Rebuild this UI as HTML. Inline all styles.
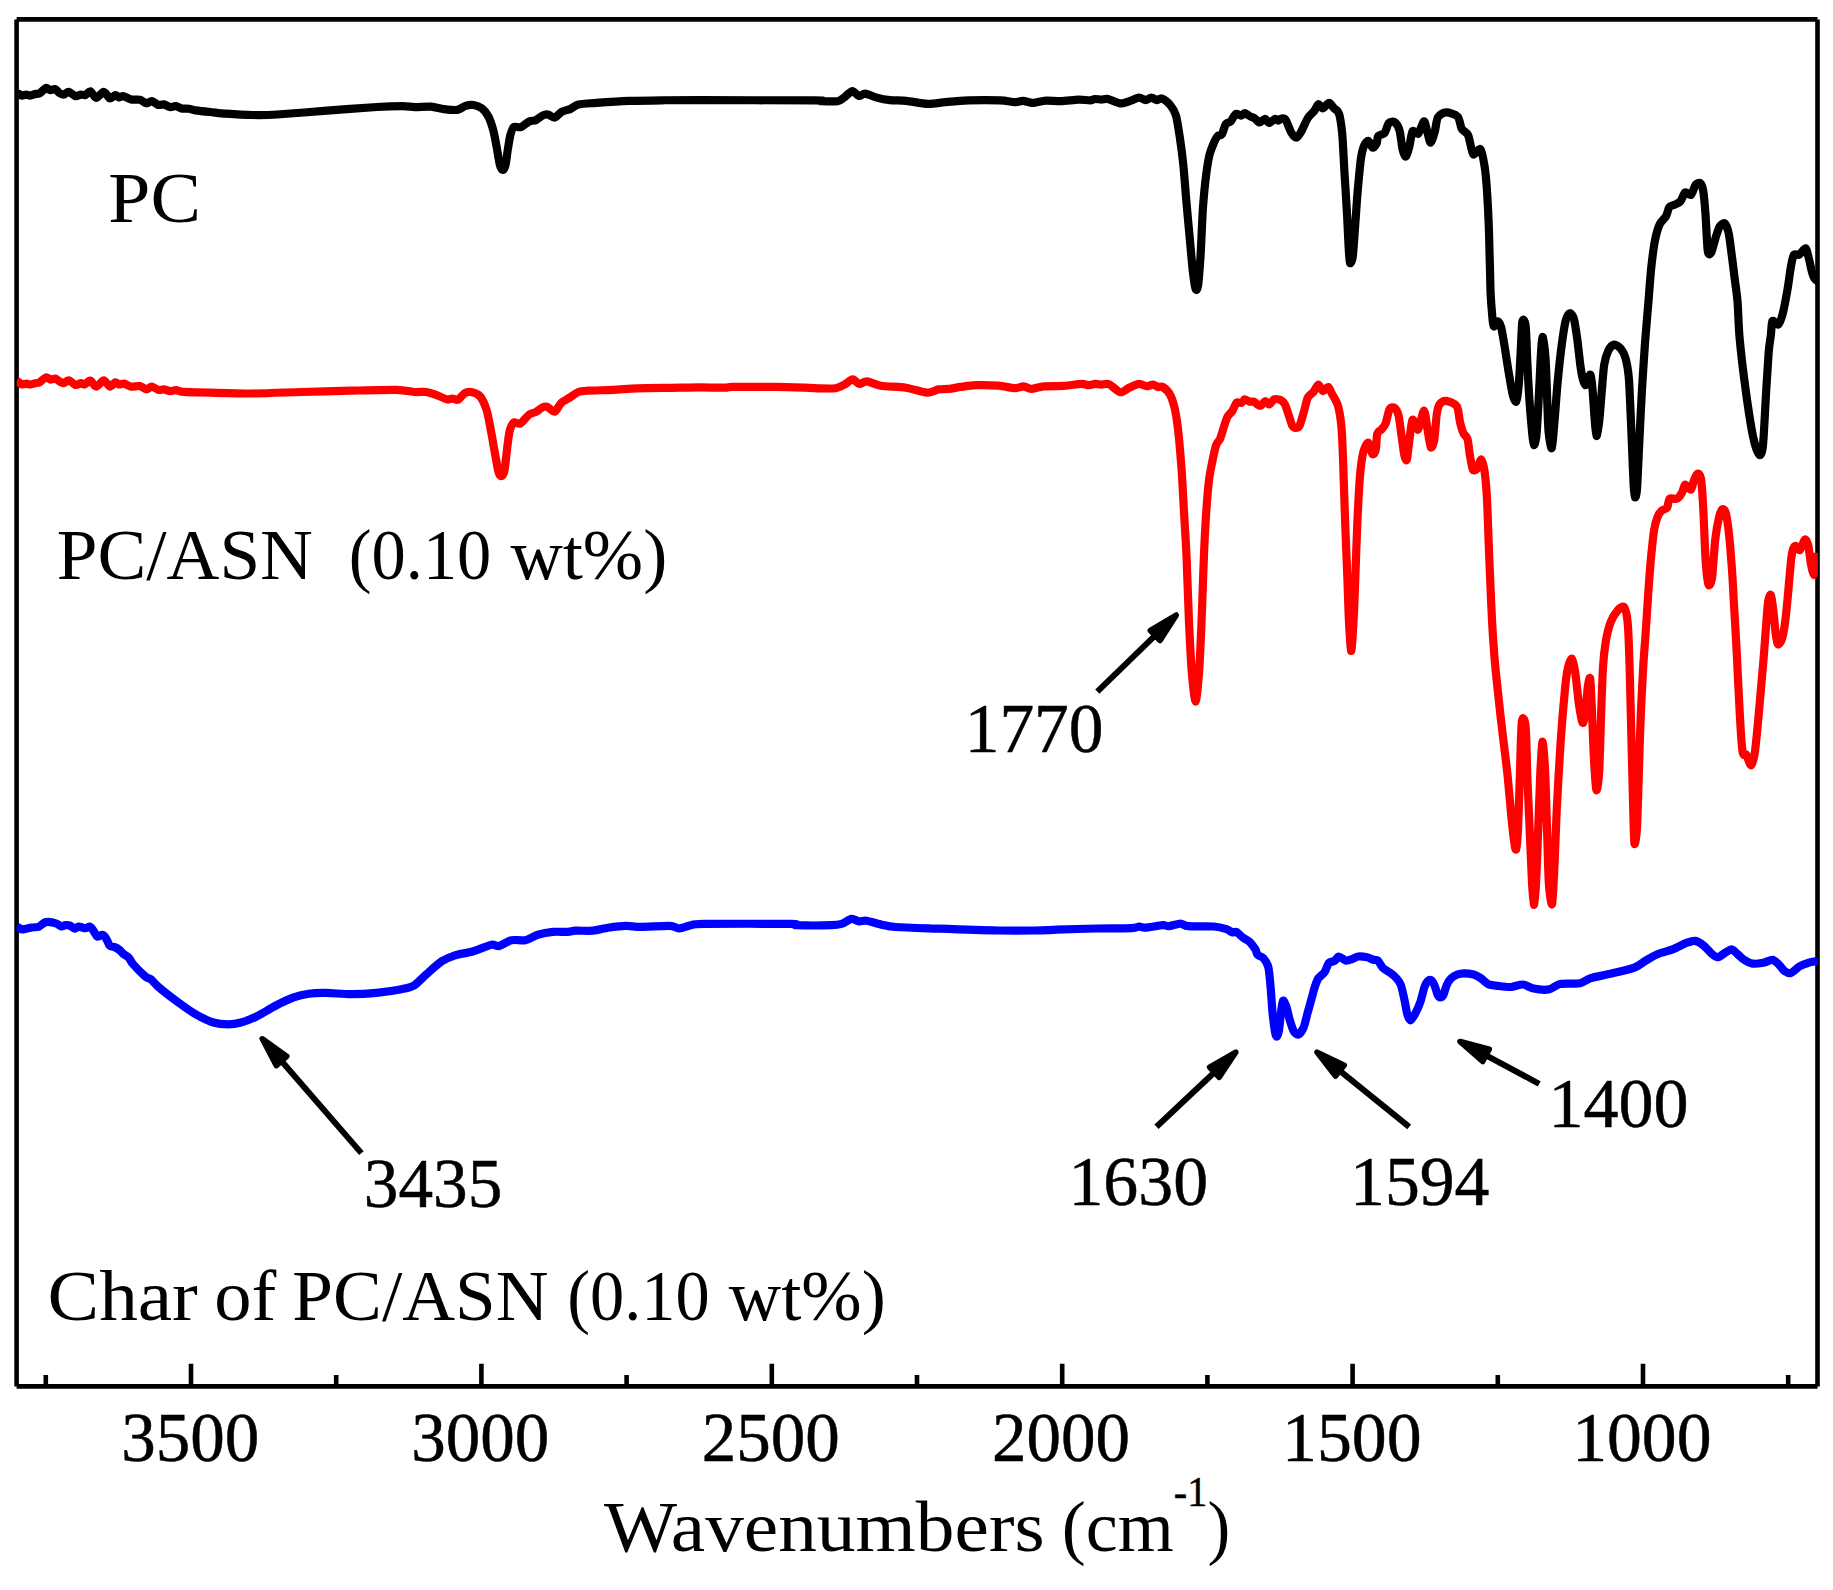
<!DOCTYPE html>
<html lang="en"><head><meta charset="utf-8"><title>FTIR spectra</title>
<style>
html,body{margin:0;padding:0;background:#fff;}
svg{display:block;}
text{font-family:'Liberation Serif', serif;fill:#000;}
.d{stroke:#000;stroke-width:0.5px;}
.c{fill:none;stroke-width:8.2;stroke-linejoin:round;stroke-linecap:butt;}
</style></head>
<body>
<svg width="1833" height="1590" viewBox="0 0 1833 1590">
<rect x="0" y="0" width="1833" height="1590" fill="#fff"/>
<path d="M16.6,19.4 H1817.5 M1817.5,19.4 V1386.4 M1817.5,1386.4 H16.6 M16.6,1386.4 V19.4" fill="none" stroke="#000" stroke-width="4.6" stroke-linecap="butt"/>
<path d="M1643.0,1386.4 V1363.8 M1352.6,1386.4 V1363.8 M1062.2,1386.4 V1363.8 M771.8,1386.4 V1363.8 M481.4,1386.4 V1363.8 M191.0,1386.4 V1363.8 M1788.2,1386.4 V1375.0 M1497.8,1386.4 V1375.0 M1207.4,1386.4 V1375.0 M917.0,1386.4 V1375.0 M626.6,1386.4 V1375.0 M336.2,1386.4 V1375.0 M45.8,1386.4 V1375.0" stroke="#000" stroke-width="4.6" fill="none"/>
<clipPath id="plot"><rect x="16.6" y="19.4" width="1801.3" height="1367.0"/></clipPath>
<g clip-path="url(#plot)">
<path class="c" stroke="#0000ff" d="M16.6,926.5C17.0,926.7 18.5,927.6 19.3,928.0C20.1,928.4 20.8,929.6 22.5,929.5C24.2,929.4 29.6,927.9 31.8,927.5C34.0,927.1 37.2,927.4 38.9,926.7C40.6,926.0 43.4,923.0 44.9,922.4C46.4,921.8 48.8,921.9 50.4,922.1C52.0,922.3 55.4,923.2 56.9,923.8C58.4,924.4 60.1,926.2 61.3,926.4C62.5,926.6 64.4,925.2 65.6,925.1C66.8,925.0 68.8,925.1 70.0,925.6C71.2,926.1 73.2,928.5 74.4,928.6C75.6,928.7 77.2,926.8 78.7,926.7C80.2,926.6 83.8,928.2 85.3,928.2C86.8,928.2 89.0,926.2 90.2,926.7C91.4,927.2 93.1,930.3 94.0,931.6C94.9,932.9 96.1,936.2 97.3,936.6C98.5,937.0 101.5,934.5 102.7,934.9C103.9,935.3 105.7,937.8 106.6,939.3C107.5,940.8 108.7,944.8 109.8,945.8C110.9,946.8 113.5,946.6 114.7,947.1C115.9,947.6 117.9,948.7 119.1,949.6C120.3,950.5 122.2,952.9 123.5,954.0C124.8,955.1 127.6,956.5 128.9,957.8C130.2,959.1 130.8,961.6 133.0,964.1C135.2,966.6 143.2,974.6 145.5,976.6C147.8,978.6 148.9,977.8 150.6,979.1C152.3,980.4 154.8,983.7 158.1,986.6C161.4,989.5 170.7,996.8 175.7,1000.5C180.7,1004.2 190.7,1011.4 195.7,1014.3C200.7,1017.2 208.9,1021.2 213.3,1022.5C217.7,1023.8 224.7,1024.3 228.4,1024.3C232.1,1024.3 237.2,1023.5 240.9,1022.5C244.6,1021.5 251.3,1019.1 256.0,1016.8C260.7,1014.5 271.0,1008.1 276.0,1005.5C281.0,1002.9 289.2,999.0 293.6,997.4C298.0,995.8 304.4,994.3 308.7,993.7C313.0,993.1 320.5,992.8 326.2,992.9C331.9,993.0 344.6,994.2 351.3,994.2C358.0,994.2 369.7,993.6 376.4,992.9C383.1,992.2 396.5,990.2 401.5,989.2C406.5,988.2 410.8,987.4 414.1,985.4C417.4,983.4 422.9,977.3 426.6,974.1C430.3,970.9 437.9,963.8 441.7,961.3C445.5,958.8 450.9,956.6 455.0,955.3C459.1,954.0 467.7,952.9 472.6,951.5C477.5,950.1 487.9,945.4 491.4,944.7C494.9,944.0 496.3,946.6 499.0,946.0C501.7,945.4 508.0,941.0 511.5,940.2C515.0,939.4 521.8,940.9 525.3,940.2C528.8,939.5 534.2,935.8 537.9,934.7C541.6,933.6 548.9,932.3 552.9,931.9C556.9,931.5 565.0,932.1 568.0,931.9C571.0,931.7 572.2,930.9 575.5,930.7C578.8,930.5 588.8,931.1 593.1,930.7C597.4,930.3 603.8,928.3 608.1,927.7C612.4,927.1 621.3,926.0 625.7,925.9C630.1,925.8 634.9,926.9 640.8,926.9C646.7,926.9 664.4,925.7 669.6,925.9C674.8,926.1 676.8,928.5 679.6,928.4C682.4,928.3 687.7,925.8 690.9,925.2C694.1,924.6 690.1,924.1 703.5,923.9C716.9,923.7 778.9,923.7 791.3,923.9C803.7,924.1 790.9,925.0 796.3,925.2C801.7,925.4 825.5,925.4 831.5,925.2C837.5,925.0 838.8,924.7 841.5,923.9C844.2,923.1 849.2,919.2 851.5,918.9C853.8,918.6 857.1,921.2 859.1,921.4C861.1,921.6 863.6,920.3 866.6,920.7C869.6,921.1 877.8,923.9 881.7,924.7C885.6,925.5 888.1,926.5 895.7,927.0C903.3,927.5 925.3,928.2 938.9,928.7C952.5,929.2 985.0,930.3 997.8,930.5C1010.6,930.7 1027.2,930.6 1035.1,930.5C1043.0,930.4 1048.6,930.0 1056.7,929.7C1064.8,929.4 1086.0,928.7 1096.0,928.5C1106.0,928.3 1125.6,928.4 1131.4,928.1C1137.2,927.8 1137.4,926.6 1139.2,926.5C1141.0,926.4 1142.0,927.9 1145.1,927.7C1148.2,927.5 1159.7,925.4 1162.8,925.2C1165.9,925.0 1166.3,926.4 1168.7,926.2C1171.1,926.0 1177.9,923.6 1180.5,923.6C1183.1,923.6 1183.8,925.8 1188.3,926.2C1192.8,926.6 1208.8,926.1 1213.9,926.5C1219.0,926.9 1224.0,928.4 1226.5,929.2C1229.0,930.0 1231.0,932.0 1232.3,932.4C1233.6,932.8 1235.0,931.2 1236.4,931.9C1237.8,932.6 1241.2,936.3 1242.9,937.6C1244.6,938.9 1247.9,940.2 1249.5,941.7C1251.1,943.2 1254.1,947.4 1255.2,949.1C1256.3,950.8 1256.5,953.6 1257.6,954.8C1258.7,956.0 1262.0,956.5 1263.4,958.1C1264.8,959.7 1267.3,963.1 1268.3,967.1C1269.3,971.1 1270.2,982.5 1270.7,988.4C1271.2,994.3 1271.9,1005.6 1272.4,1011.3C1272.9,1017.0 1274.3,1027.5 1274.8,1030.9C1275.3,1034.3 1276.0,1036.7 1276.5,1036.7C1277.0,1036.7 1278.3,1034.1 1278.9,1030.9C1279.5,1027.7 1280.4,1016.9 1280.9,1012.9C1281.4,1008.9 1282.3,1001.6 1283.0,1000.7C1283.7,999.8 1285.4,1003.9 1286.3,1006.4C1287.2,1008.9 1288.6,1016.2 1289.6,1019.5C1290.6,1022.8 1292.5,1028.9 1293.6,1030.9C1294.7,1032.9 1296.9,1034.9 1298.2,1034.5C1299.5,1034.1 1302.2,1030.6 1303.5,1027.7C1304.8,1024.8 1306.5,1016.8 1307.6,1012.9C1308.7,1009.0 1310.7,1001.7 1311.7,998.2C1312.7,994.7 1314.0,989.3 1314.9,986.7C1315.8,984.1 1316.9,980.6 1318.2,978.6C1319.5,976.6 1323.3,974.1 1324.7,972.0C1326.1,969.9 1327.5,964.5 1328.8,963.0C1330.1,961.5 1333.3,961.8 1334.6,960.9C1335.9,960.0 1337.2,956.5 1338.7,956.5C1340.2,956.5 1344.1,960.3 1346.0,960.6C1347.9,960.9 1351.0,959.4 1352.6,958.9C1354.2,958.4 1356.3,956.7 1358.3,956.5C1360.3,956.3 1365.3,956.9 1367.3,957.3C1369.3,957.7 1371.6,959.3 1373.0,959.7C1374.4,960.1 1376.6,959.5 1377.9,960.6C1379.2,961.7 1381.2,966.3 1382.8,967.9C1384.4,969.5 1388.3,971.4 1390.2,972.8C1392.1,974.2 1395.4,977.0 1396.8,978.6C1398.2,980.2 1399.9,982.5 1400.9,985.1C1401.9,987.7 1403.2,994.3 1404.1,998.2C1405.0,1002.1 1406.5,1011.7 1407.4,1014.6C1408.3,1017.5 1409.6,1020.5 1410.7,1020.3C1411.8,1020.1 1414.3,1015.4 1415.6,1012.9C1416.9,1010.4 1419.3,1005.0 1420.5,1001.5C1421.7,998.0 1423.6,989.4 1424.6,986.7C1425.6,984.0 1427.0,981.9 1427.9,981.0C1428.8,980.1 1430.2,979.7 1431.1,980.2C1432.0,980.7 1433.5,983.1 1434.4,985.1C1435.3,987.1 1436.9,993.3 1437.7,994.9C1438.5,996.5 1439.3,997.4 1440.1,997.4C1440.9,997.4 1442.5,996.5 1443.4,994.9C1444.3,993.3 1445.7,987.3 1446.7,985.1C1447.7,982.9 1449.4,980.0 1450.8,978.6C1452.2,977.2 1455.6,975.2 1457.3,974.5C1459.0,973.8 1461.7,973.3 1463.9,973.3C1466.1,973.3 1471.5,973.9 1473.7,974.5C1475.9,975.1 1478.2,976.4 1480.2,977.7C1482.2,979.0 1486.0,983.2 1488.4,984.3C1490.8,985.4 1495.2,985.5 1498.2,985.9C1501.2,986.3 1507.6,987.2 1510.9,987.0C1514.2,986.8 1519.7,984.3 1522.7,984.5C1525.7,984.7 1530.1,987.9 1533.6,988.6C1537.1,989.3 1545.5,990.0 1549.0,989.4C1552.5,988.8 1555.8,984.7 1559.9,983.9C1564.0,983.1 1575.8,984.0 1579.9,983.2C1584.0,982.4 1586.9,979.3 1590.8,978.1C1594.7,976.9 1603.2,975.5 1609.0,974.1C1614.8,972.7 1629.6,969.4 1634.4,967.6C1639.2,965.8 1642.2,962.7 1645.3,960.9C1648.4,959.1 1654.4,955.5 1658.0,954.0C1661.6,952.5 1668.7,950.9 1672.6,949.4C1676.5,947.9 1684.1,943.8 1687.1,942.7C1690.1,941.6 1693.1,940.5 1695.3,940.9C1697.5,941.3 1701.3,943.7 1703.5,945.4C1705.7,947.1 1709.7,952.0 1711.6,953.6C1713.5,955.2 1716.2,957.3 1718.0,957.2C1719.8,957.1 1723.4,953.7 1725.2,952.7C1727.0,951.7 1729.9,949.2 1731.6,949.4C1733.3,949.6 1736.3,953.1 1738.0,954.5C1739.7,955.9 1742.4,958.7 1744.3,959.9C1746.2,961.1 1750.0,963.2 1752.5,963.6C1755.0,964.0 1760.7,963.2 1763.4,962.7C1766.1,962.2 1770.4,959.7 1772.5,959.9C1774.6,960.1 1777.2,963.0 1778.8,964.5C1780.4,966.0 1782.7,969.7 1784.3,970.8C1785.9,971.9 1788.5,973.6 1790.6,973.0C1792.7,972.4 1797.3,967.7 1799.7,966.3C1802.1,964.9 1806.4,963.4 1808.8,962.7C1811.2,962.0 1816.8,961.1 1818.0,960.8"/>
<path class="c" stroke="#ff0000" d="M16.6,381.0C17.0,381.2 18.6,382.0 19.3,382.5C20.0,383.0 21.1,384.4 22.0,384.5C22.9,384.6 25.3,383.6 26.4,383.6C27.5,383.6 29.0,384.6 30.2,384.5C31.4,384.4 33.9,383.5 35.1,383.2C36.3,382.9 38.0,383.1 39.5,382.3C41.0,381.5 44.5,377.8 46.0,377.4C47.5,377.0 49.2,379.5 50.4,379.6C51.6,379.7 54.1,378.3 55.3,378.5C56.5,378.7 58.0,380.6 59.1,381.2C60.2,381.8 62.2,383.3 63.5,383.2C64.8,383.1 67.3,380.1 68.9,380.3C70.5,380.5 73.9,384.6 75.5,385.0C77.1,385.4 79.7,383.3 80.9,383.2C82.1,383.1 83.5,384.8 84.7,384.5C85.9,384.2 88.7,380.3 90.2,380.6C91.7,380.9 94.4,386.6 96.2,386.6C98.0,386.6 102.0,380.3 103.8,380.3C105.6,380.3 108.3,386.3 109.8,386.6C111.3,386.9 114.1,382.6 115.3,382.3C116.5,382.0 117.9,384.3 119.1,384.5C120.3,384.7 122.4,383.3 124.0,383.6C125.6,383.9 129.0,386.3 131.1,386.6C133.2,386.9 137.8,385.7 139.8,386.1C141.8,386.5 144.8,389.3 146.4,389.4C148.0,389.5 150.2,386.5 151.8,386.6C153.4,386.7 156.8,389.5 158.4,389.9C160.0,390.3 162.2,389.2 163.8,389.4C165.4,389.6 168.8,391.1 170.4,391.2C172.0,391.3 174.3,390.0 175.8,390.1C177.3,390.2 178.7,391.3 181.3,391.6C183.9,391.9 191.7,392.2 195.5,392.3C199.3,392.4 202.4,392.4 210.0,392.6C217.6,392.8 240.1,393.6 252.2,393.5C264.3,393.4 287.8,392.4 301.0,392.0C314.2,391.6 338.6,391.0 351.3,390.7C364.0,390.4 388.0,389.7 396.5,389.9C405.0,390.1 410.7,391.7 414.7,392.0C418.7,392.3 423.4,391.6 426.2,392.0C429.0,392.4 433.3,393.8 436.0,394.8C438.7,395.8 444.4,398.7 446.6,399.2C448.8,399.7 450.9,398.5 452.4,398.6C453.9,398.7 456.5,400.4 458.1,399.7C459.7,399.0 462.9,394.2 464.6,393.2C466.3,392.2 469.1,391.6 471.2,392.0C473.3,392.4 478.1,394.0 480.2,396.5C482.3,399.0 485.3,405.9 486.7,410.4C488.1,414.9 489.7,424.3 490.8,430.0C491.9,435.7 493.9,447.4 494.9,452.9C495.9,458.4 497.4,467.8 498.2,470.9C499.0,474.0 500.3,476.2 501.1,476.2C501.9,476.2 503.6,474.7 504.4,470.9C505.2,467.1 506.5,453.3 507.2,448.0C507.9,442.7 508.8,434.2 509.7,430.8C510.6,427.4 512.3,423.6 513.7,422.6C515.1,421.6 518.2,424.6 520.3,423.5C522.4,422.4 527.2,416.0 529.3,414.5C531.4,413.0 534.1,412.9 535.8,412.0C537.5,411.1 540.9,408.1 542.4,407.4C543.9,406.7 545.7,406.2 547.3,406.8C548.9,407.4 552.8,412.2 554.7,411.7C556.6,411.2 559.1,404.9 561.2,403.0C563.3,401.1 567.9,398.8 570.2,397.3C572.5,395.8 576.0,392.9 578.4,392.0C580.8,391.1 583.6,391.0 588.2,390.7C592.8,390.4 606.3,390.2 612.8,389.9C619.3,389.6 629.7,388.6 637.3,388.3C644.9,388.0 661.6,387.9 670.0,387.8C678.4,387.7 692.7,387.4 700.0,387.4C707.3,387.4 720.7,387.8 725.0,387.7C729.3,387.6 725.9,387.0 732.6,386.9C739.3,386.8 765.6,386.8 775.3,386.9C785.0,387.0 799.4,387.5 805.4,387.7C811.4,387.9 816.5,388.3 820.5,388.4C824.5,388.5 832.3,388.7 835.5,388.2C838.7,387.7 842.0,385.9 844.3,384.7C846.6,383.5 850.6,379.5 852.6,379.4C854.6,379.3 857.4,383.6 859.3,383.9C861.2,384.2 864.0,381.2 866.9,381.4C869.8,381.6 875.5,384.9 880.7,385.7C885.9,386.5 899.6,386.8 905.8,387.7C912.0,388.6 922.8,392.5 927.1,392.7C931.4,392.9 935.6,389.9 938.4,389.4C941.2,388.9 945.4,389.2 948.4,388.9C951.4,388.6 957.3,387.4 961.0,386.9C964.7,386.4 971.0,385.4 976.0,385.2C981.0,385.0 993.4,385.3 998.6,385.7C1003.8,386.1 1011.6,388.1 1014.9,388.2C1018.2,388.3 1021.5,386.3 1023.7,386.4C1025.9,386.5 1028.5,388.9 1031.2,388.9C1033.9,388.9 1039.4,386.8 1043.8,386.4C1048.2,386.0 1058.9,386.2 1063.9,385.9C1068.9,385.6 1078.1,384.0 1081.4,383.9C1084.7,383.8 1087.2,385.2 1089.0,385.2C1090.8,385.2 1093.5,384.0 1095.2,383.9C1096.9,383.8 1099.7,384.7 1101.5,384.7C1103.3,384.7 1106.5,383.2 1109.0,384.2C1111.5,385.2 1117.6,391.7 1120.3,392.2C1123.0,392.7 1126.6,388.8 1129.1,387.7C1131.6,386.6 1136.8,384.0 1139.1,383.8C1141.4,383.6 1144.6,386.1 1146.5,386.2C1148.4,386.3 1151.6,384.4 1153.1,384.5C1154.6,384.6 1156.7,386.7 1158.0,387.0C1159.3,387.3 1161.3,385.9 1162.9,387.0C1164.5,388.1 1168.7,392.0 1170.3,395.2C1171.9,398.4 1174.1,405.6 1175.2,410.7C1176.3,415.8 1177.6,425.5 1178.5,433.6C1179.4,441.7 1180.9,460.4 1181.7,471.3C1182.5,482.2 1183.5,503.9 1184.2,515.5C1184.9,527.1 1186.0,543.8 1186.6,558.0C1187.2,572.2 1188.3,606.5 1189.0,622.0C1189.7,637.5 1191.1,664.0 1192.0,674.6C1192.9,685.2 1194.7,701.6 1195.6,701.6C1196.5,701.6 1198.1,684.7 1198.9,674.6C1199.7,664.5 1200.8,639.4 1201.4,625.5C1202.0,611.6 1202.9,583.6 1203.4,570.0C1203.9,556.4 1204.8,535.3 1205.5,523.7C1206.2,512.1 1207.8,490.8 1208.7,482.7C1209.6,474.6 1211.0,468.1 1212.0,463.1C1213.0,458.1 1215.0,448.4 1216.1,445.1C1217.2,441.8 1219.1,441.2 1220.2,438.6C1221.3,436.0 1223.3,428.4 1224.3,425.5C1225.3,422.6 1226.5,418.5 1227.6,416.5C1228.7,414.5 1231.3,412.6 1232.5,410.7C1233.7,408.8 1235.4,403.6 1236.6,402.6C1237.8,401.6 1240.4,403.3 1241.5,402.9C1242.6,402.5 1243.6,399.5 1244.7,399.3C1245.8,399.1 1248.5,401.4 1249.7,401.7C1250.9,402.0 1252.3,401.2 1253.7,401.7C1255.1,402.2 1258.8,405.9 1260.3,405.8C1261.8,405.7 1264.0,401.4 1265.2,401.2C1266.4,401.0 1268.1,404.8 1269.3,404.5C1270.5,404.2 1272.7,399.9 1274.2,399.3C1275.7,398.7 1279.4,399.4 1280.8,400.1C1282.2,400.8 1283.7,402.1 1284.8,404.2C1285.9,406.3 1287.9,412.8 1288.9,415.6C1289.9,418.4 1291.3,423.9 1292.2,425.5C1293.1,427.1 1294.5,427.9 1295.5,427.9C1296.5,427.9 1298.5,427.6 1299.6,425.5C1300.7,423.4 1302.6,416.1 1303.7,412.4C1304.8,408.7 1306.5,400.3 1307.8,397.6C1309.1,394.9 1312.1,393.6 1313.5,391.9C1314.9,390.2 1317.1,384.6 1318.4,384.5C1319.7,384.4 1321.7,390.8 1323.0,391.1C1324.3,391.4 1327.0,386.6 1328.2,387.0C1329.4,387.4 1331.0,391.9 1332.3,394.4C1333.6,396.9 1336.8,401.7 1338.0,405.8C1339.2,409.9 1340.6,418.5 1341.3,425.5C1342.0,432.5 1342.5,444.9 1343.0,458.0C1343.5,471.1 1344.6,507.3 1345.2,523.7C1345.8,540.1 1347.0,568.2 1347.5,581.0C1348.0,593.8 1348.4,610.7 1348.9,620.0C1349.4,629.3 1350.6,651.0 1351.2,651.0C1351.8,651.0 1353.0,630.4 1353.6,620.0C1354.2,609.6 1355.0,585.6 1355.5,572.8C1356.0,560.0 1356.7,536.8 1357.3,523.7C1357.9,510.6 1359.3,484.2 1360.1,474.6C1360.9,465.0 1362.3,456.0 1363.4,451.7C1364.5,447.4 1367.1,442.4 1368.3,442.7C1369.5,443.0 1371.4,453.1 1372.4,454.1C1373.4,455.1 1375.0,452.7 1375.7,450.0C1376.4,447.3 1376.5,436.3 1377.3,433.6C1378.1,430.9 1380.3,430.9 1381.4,429.6C1382.5,428.3 1384.4,426.5 1385.5,423.8C1386.6,421.1 1388.4,411.2 1389.6,409.1C1390.8,407.0 1393.3,406.9 1394.5,407.8C1395.7,408.7 1397.6,411.5 1398.6,415.6C1399.6,419.7 1401.1,433.4 1401.9,438.6C1402.7,443.8 1403.6,452.1 1404.3,454.9C1405.0,457.7 1406.1,461.5 1406.8,459.8C1407.5,458.1 1408.4,447.1 1409.2,441.8C1410.0,436.5 1411.3,421.3 1412.5,419.7C1413.7,418.1 1416.7,430.8 1418.2,429.6C1419.7,428.4 1422.7,410.4 1424.0,410.5C1425.3,410.6 1426.7,425.1 1427.6,430.0C1428.5,434.9 1429.9,446.0 1430.8,447.3C1431.7,448.6 1433.4,444.4 1434.2,440.0C1435.0,435.6 1436.1,418.8 1436.8,414.0C1437.5,409.2 1438.5,405.7 1439.8,404.0C1441.1,402.3 1443.9,400.6 1446.2,400.9C1448.5,401.2 1454.9,403.3 1456.8,406.2C1458.7,409.1 1459.2,419.0 1460.1,422.6C1461.0,426.2 1462.4,431.0 1463.4,433.2C1464.4,435.4 1466.6,436.0 1467.5,438.9C1468.4,441.8 1469.2,451.3 1469.9,455.3C1470.6,459.3 1471.8,467.3 1472.7,469.2C1473.6,471.1 1475.3,470.5 1476.5,469.2C1477.7,467.9 1480.3,459.1 1481.4,459.4C1482.5,459.7 1483.8,466.1 1484.6,471.7C1485.4,477.3 1486.6,491.5 1487.1,501.1C1487.6,510.7 1488.3,532.6 1488.7,543.7C1489.1,554.8 1490.0,574.4 1490.4,584.6C1490.8,594.8 1491.5,610.3 1492.0,620.0C1492.5,629.7 1493.7,647.6 1494.5,657.7C1495.3,667.8 1497.2,684.9 1498.3,695.5C1499.4,706.1 1501.7,726.2 1503.0,737.0C1504.3,747.8 1506.6,765.8 1507.7,776.6C1508.8,787.4 1510.6,809.3 1511.5,818.1C1512.4,826.9 1513.7,838.5 1514.3,842.6C1514.9,846.7 1515.7,851.2 1516.2,849.2C1516.7,847.2 1517.6,837.9 1518.1,827.5C1518.6,817.1 1519.5,785.1 1520.0,770.9C1520.5,756.7 1521.1,726.7 1521.9,720.9C1522.7,715.1 1525.0,719.6 1525.7,727.5C1526.4,735.4 1526.9,765.8 1527.5,780.4C1528.1,795.0 1529.4,823.7 1530.0,837.0C1530.6,850.3 1531.4,871.3 1531.9,880.4C1532.4,889.5 1533.3,904.4 1533.8,904.9C1534.3,905.4 1535.4,894.5 1536.0,884.2C1536.6,873.9 1537.7,842.6 1538.3,827.5C1538.9,812.4 1539.8,782.3 1540.4,770.9C1541.0,759.5 1542.0,741.7 1542.6,741.7C1543.2,741.7 1544.5,759.5 1545.1,770.9C1545.7,782.3 1546.5,812.4 1547.0,827.5C1547.5,842.6 1548.2,874.0 1548.9,884.2C1549.6,894.4 1551.4,906.5 1552.1,904.0C1552.8,901.5 1553.9,878.0 1554.5,865.3C1555.1,852.6 1556.0,825.1 1556.8,808.7C1557.6,792.3 1559.5,759.0 1560.6,742.6C1561.7,726.2 1564.3,696.1 1565.3,686.0C1566.3,675.9 1567.2,670.8 1568.1,667.2C1569.0,663.6 1570.9,658.0 1571.9,658.7C1572.9,659.4 1574.4,667.1 1575.3,672.8C1576.2,678.5 1577.7,695.1 1578.5,701.1C1579.3,707.1 1580.7,715.2 1581.3,718.1C1581.9,721.0 1582.6,723.8 1583.2,722.8C1583.8,721.8 1584.9,715.5 1585.5,710.6C1586.1,705.7 1587.3,690.3 1587.9,686.0C1588.5,681.7 1589.7,676.0 1590.2,678.5C1590.7,681.0 1591.2,695.1 1591.7,704.9C1592.2,714.7 1593.0,740.8 1593.6,752.1C1594.2,763.4 1595.7,787.3 1596.4,789.8C1597.1,792.3 1598.6,781.0 1599.2,770.9C1599.8,760.8 1600.6,728.1 1601.1,714.3C1601.6,700.5 1602.4,676.9 1603.0,667.2C1603.6,657.5 1604.8,647.5 1605.8,641.5C1606.8,635.5 1609.1,626.2 1610.7,622.0C1612.3,617.8 1616.3,612.0 1618.0,610.0C1619.7,608.0 1622.7,606.2 1623.8,606.7C1624.9,607.2 1625.9,610.9 1626.5,614.0C1627.1,617.1 1627.8,622.9 1628.2,630.0C1628.6,637.1 1629.2,653.2 1629.6,667.0C1630.0,680.8 1630.8,714.3 1631.3,733.2C1631.8,752.1 1632.8,794.0 1633.2,808.7C1633.6,823.4 1634.0,841.1 1634.5,843.6C1635.0,846.1 1636.4,837.2 1637.0,827.5C1637.6,817.8 1638.4,786.0 1638.9,770.9C1639.4,755.8 1640.2,728.1 1640.8,714.3C1641.4,700.5 1642.6,677.8 1643.2,667.2C1643.8,656.6 1644.8,644.9 1645.5,635.0C1646.2,625.1 1647.6,602.8 1648.3,592.8C1649.0,582.8 1650.0,568.3 1650.8,560.0C1651.6,551.7 1653.1,536.3 1654.0,530.6C1654.9,524.9 1656.3,520.1 1657.3,517.5C1658.3,514.9 1660.1,512.2 1661.4,510.9C1662.7,509.6 1666.0,509.3 1667.1,507.7C1668.2,506.1 1668.3,499.9 1669.6,498.7C1670.9,497.5 1675.4,499.5 1677.0,498.7C1678.6,497.9 1680.8,494.8 1681.9,492.9C1683.0,491.0 1683.9,485.1 1685.1,484.7C1686.3,484.3 1689.7,490.4 1690.9,489.7C1692.1,489.0 1693.2,482.0 1694.1,479.8C1695.0,477.6 1696.6,473.6 1697.5,473.5C1698.4,473.4 1700.2,474.1 1701.0,478.8C1701.8,483.5 1702.7,498.2 1703.3,509.0C1703.9,519.8 1704.9,549.9 1705.6,560.0C1706.3,570.1 1707.6,582.1 1708.5,584.5C1709.4,586.9 1711.1,583.9 1712.0,578.0C1712.9,572.1 1714.3,548.1 1715.2,540.0C1716.1,531.9 1718.0,521.6 1719.0,517.5C1720.0,513.4 1721.5,509.7 1722.4,509.2C1723.3,508.7 1725.0,509.7 1725.9,513.4C1726.8,517.1 1728.5,529.2 1729.3,536.9C1730.1,544.6 1731.4,562.0 1732.1,571.5C1732.8,581.0 1733.5,596.5 1734.2,608.0C1734.9,619.5 1736.3,643.8 1737.0,658.0C1737.7,672.2 1739.1,701.8 1739.8,714.3C1740.5,726.8 1741.7,746.7 1742.6,752.1C1743.5,757.5 1745.3,753.1 1746.4,754.9C1747.5,756.7 1750.0,765.7 1751.1,765.3C1752.2,764.9 1753.9,758.9 1754.9,752.1C1755.9,745.3 1757.6,726.3 1758.7,714.3C1759.8,702.3 1762.3,673.7 1763.3,662.0C1764.3,650.3 1765.4,634.9 1766.0,626.9C1766.6,618.9 1767.4,606.2 1768.1,601.9C1768.8,597.6 1770.2,593.5 1770.9,595.0C1771.6,596.5 1773.0,607.8 1773.6,613.0C1774.2,618.2 1775.1,629.6 1775.7,633.8C1776.3,638.0 1777.0,643.5 1777.8,644.2C1778.6,644.9 1780.9,642.5 1781.9,639.3C1782.9,636.1 1784.6,626.2 1785.4,619.9C1786.2,613.6 1787.5,599.9 1788.2,592.2C1788.9,584.5 1790.3,567.5 1790.9,561.8C1791.5,556.1 1792.3,551.4 1793.0,549.3C1793.7,547.2 1794.9,545.8 1795.8,545.9C1796.7,546.0 1798.7,550.8 1799.9,550.0C1801.1,549.2 1803.7,540.3 1804.8,539.7C1805.9,539.1 1807.4,541.9 1808.2,545.2C1809.0,548.5 1810.3,560.7 1811.0,564.6C1811.7,568.5 1813.1,574.6 1813.7,574.8C1814.3,575.0 1815.1,568.9 1815.6,566.0C1816.1,563.1 1817.0,554.7 1817.2,553.0"/>
<path class="c" stroke="#000000" d="M16.6,93.5C17.0,93.6 18.6,93.7 19.3,94.0C20.0,94.3 21.1,95.5 22.0,95.6C22.9,95.7 25.3,94.6 26.4,94.6C27.5,94.6 29.0,95.7 30.2,95.6C31.4,95.5 33.9,94.3 35.1,94.0C36.3,93.7 38.0,94.3 39.5,93.5C41.0,92.7 44.5,88.4 46.0,88.0C47.5,87.6 49.2,90.1 50.4,90.2C51.6,90.3 54.1,88.7 55.3,89.1C56.5,89.5 58.0,92.2 59.1,92.9C60.2,93.6 62.2,94.7 63.5,94.6C64.8,94.5 67.3,91.6 68.9,91.8C70.5,92.0 73.9,95.8 75.5,96.2C77.1,96.6 79.6,94.7 80.9,94.6C82.2,94.5 84.1,95.5 85.3,95.1C86.5,94.7 88.7,90.9 90.2,91.3C91.7,91.7 94.4,97.7 96.2,97.8C98.0,97.9 102.0,91.7 103.8,91.8C105.6,91.9 108.3,98.0 109.8,98.4C111.3,98.8 114.1,95.2 115.3,95.1C116.5,95.0 118.0,97.2 119.1,97.3C120.2,97.4 121.9,95.9 123.5,96.2C125.1,96.5 128.9,99.0 131.1,99.5C133.3,100.0 137.8,99.2 139.8,99.7C141.8,100.2 144.8,103.1 146.4,103.3C148.0,103.5 150.2,100.9 151.8,101.1C153.4,101.3 156.8,104.5 158.4,104.9C160.0,105.3 162.2,104.1 163.8,104.4C165.4,104.7 168.8,106.9 170.4,107.1C172.0,107.3 174.3,105.8 175.8,106.0C177.3,106.2 179.6,108.0 181.3,108.4C183.0,108.8 187.0,108.4 188.9,108.7C190.8,109.0 192.7,110.0 195.5,110.4C198.3,110.8 205.9,111.6 210.0,112.0C214.1,112.4 220.3,113.3 226.0,113.7C231.7,114.1 246.2,114.9 253.0,115.0C259.8,115.1 267.1,115.1 277.0,114.5C286.9,113.9 313.7,111.7 327.0,110.7C340.3,109.7 366.9,107.6 377.0,107.0C387.1,106.4 397.5,106.2 402.5,106.2C407.5,106.2 410.9,107.0 414.7,107.1C418.5,107.2 427.1,106.3 431.0,106.6C434.9,106.9 440.5,108.7 444.0,109.1C447.5,109.5 454.4,110.3 457.3,109.9C460.2,109.5 463.3,106.5 465.5,105.8C467.7,105.1 471.4,104.7 473.6,105.0C475.8,105.3 479.8,106.8 481.8,108.3C483.8,109.8 486.9,113.6 488.4,116.5C489.9,119.4 492.2,126.4 493.3,130.4C494.4,134.4 495.7,142.1 496.6,146.7C497.5,151.3 499.0,161.6 499.8,164.7C500.6,167.8 502.0,170.0 502.8,170.0C503.6,170.0 504.9,167.6 505.6,164.7C506.3,161.8 507.3,152.4 508.0,148.4C508.7,144.4 509.7,137.3 510.5,134.5C511.3,131.7 512.3,128.1 513.7,127.1C515.1,126.1 518.9,127.9 521.0,127.1C523.1,126.3 527.3,122.3 529.3,121.4C531.3,120.5 534.1,121.0 535.8,120.2C537.5,119.4 540.8,116.4 542.4,115.6C544.0,114.8 546.4,114.2 548.0,114.5C549.6,114.8 552.8,118.0 554.7,117.6C556.6,117.2 559.9,112.7 562.0,111.6C564.1,110.5 568.0,110.0 570.2,109.1C572.4,108.2 574.9,105.3 578.4,104.5C581.9,103.7 589.7,103.4 596.4,102.9C603.1,102.4 620.3,101.2 629.0,100.9C637.7,100.6 652.4,100.4 661.9,100.3C671.4,100.2 679.6,100.2 700.0,100.2C720.4,100.2 798.5,100.3 814.6,100.4C830.7,100.5 817.9,101.1 821.0,101.2C824.1,101.3 834.4,101.7 837.5,101.2C840.6,100.7 842.0,98.9 844.0,97.6C846.0,96.3 850.2,91.3 852.2,91.1C854.2,90.9 857.1,95.7 858.8,96.0C860.5,96.3 862.9,93.4 865.3,93.6C867.7,93.8 873.5,96.7 876.8,97.6C880.1,98.5 886.0,99.7 889.9,100.1C893.8,100.5 901.2,100.4 906.2,100.9C911.2,101.4 922.3,103.7 927.5,103.9C932.7,104.1 940.0,102.6 945.5,102.1C951.0,101.6 961.1,100.6 968.4,100.4C975.7,100.2 993.8,100.2 1000.0,100.4C1006.2,100.6 1011.6,102.1 1014.7,102.2C1017.8,102.3 1020.6,100.8 1023.0,100.9C1025.4,101.0 1029.7,102.9 1032.7,102.9C1035.7,102.9 1042.1,100.8 1045.8,100.6C1049.5,100.4 1056.2,101.3 1060.6,101.2C1065.0,101.1 1074.7,99.7 1078.6,99.6C1082.5,99.5 1087.8,100.4 1090.0,100.3C1092.2,100.2 1093.5,99.1 1095.0,99.0C1096.5,98.9 1099.8,99.6 1101.5,99.6C1103.2,99.6 1105.5,98.5 1108.0,99.0C1110.5,99.5 1117.2,103.2 1120.3,103.4C1123.4,103.6 1128.5,101.4 1131.0,100.6C1133.5,99.8 1137.0,97.7 1139.0,97.6C1141.0,97.5 1144.0,100.1 1145.7,100.1C1147.4,100.1 1149.9,97.6 1151.4,97.6C1152.9,97.6 1155.6,100.0 1157.0,100.1C1158.4,100.2 1160.2,97.8 1162.0,98.5C1163.8,99.2 1168.3,102.7 1170.2,105.0C1172.1,107.3 1174.7,111.1 1176.0,115.6C1177.3,120.1 1179.0,132.1 1180.0,138.6C1181.0,145.1 1182.4,156.0 1183.3,164.7C1184.2,173.4 1185.7,194.0 1186.6,204.0C1187.5,214.0 1189.0,230.8 1189.9,240.0C1190.8,249.2 1192.2,266.3 1193.0,272.8C1193.8,279.3 1194.9,287.3 1195.6,289.0C1196.3,290.7 1197.3,290.2 1198.0,285.9C1198.7,281.6 1199.8,266.9 1200.5,256.4C1201.2,245.9 1202.2,218.2 1203.0,207.3C1203.8,196.4 1205.3,181.6 1206.2,174.6C1207.1,167.6 1208.5,159.0 1209.5,154.9C1210.5,150.8 1212.5,146.0 1213.6,143.5C1214.7,141.0 1216.6,137.3 1217.7,136.1C1218.8,134.9 1220.7,136.1 1221.8,134.5C1222.9,132.9 1224.7,125.5 1225.9,123.8C1227.1,122.1 1229.5,122.7 1230.8,121.4C1232.1,120.1 1234.3,114.8 1235.7,114.0C1237.1,113.2 1240.2,115.7 1241.4,115.6C1242.6,115.5 1243.5,113.1 1244.7,113.2C1245.9,113.3 1249.1,115.8 1250.4,116.5C1251.7,117.2 1253.3,117.3 1254.5,118.1C1255.7,118.9 1258.0,122.4 1259.4,122.5C1260.8,122.6 1263.8,118.8 1265.1,118.9C1266.4,119.0 1267.9,123.0 1269.2,123.0C1270.5,123.0 1273.8,119.2 1275.0,118.9C1276.2,118.6 1277.3,120.6 1278.2,120.6C1279.1,120.6 1280.5,118.7 1281.5,118.6C1282.5,118.5 1284.2,117.6 1285.5,119.5C1286.8,121.4 1290.0,130.4 1291.4,132.8C1292.8,135.2 1295.0,137.8 1296.3,137.7C1297.6,137.6 1299.5,134.6 1301.0,132.0C1302.5,129.4 1306.0,120.9 1307.8,118.1C1309.6,115.3 1313.0,112.6 1314.4,110.7C1315.8,108.8 1317.4,104.5 1318.5,104.2C1319.6,103.9 1321.5,108.5 1322.9,108.3C1324.3,108.1 1327.6,102.9 1329.1,102.9C1330.6,102.9 1332.7,106.9 1334.0,108.3C1335.3,109.7 1337.8,109.8 1338.9,113.2C1340.0,116.6 1341.4,125.4 1342.2,133.6C1343.0,141.8 1343.9,163.7 1344.6,174.6C1345.3,185.5 1346.6,205.7 1347.1,215.5C1347.6,225.3 1348.3,241.9 1348.7,248.2C1349.1,254.5 1349.5,261.9 1350.0,263.0C1350.5,264.1 1352.1,261.6 1352.8,256.4C1353.5,251.2 1354.6,232.4 1355.3,223.7C1356.0,215.0 1356.9,199.6 1357.7,190.9C1358.5,182.2 1360.1,164.3 1361.0,158.2C1361.9,152.1 1363.3,147.4 1364.3,145.1C1365.3,142.8 1367.3,140.7 1368.4,141.0C1369.5,141.3 1371.4,147.3 1372.5,147.6C1373.6,147.9 1375.8,145.0 1376.6,143.5C1377.4,142.0 1377.1,137.5 1378.2,136.1C1379.3,134.7 1383.3,134.5 1384.7,132.8C1386.1,131.1 1387.5,124.4 1388.8,123.0C1390.1,121.6 1393.2,121.2 1394.6,122.2C1396.0,123.2 1398.4,126.7 1399.5,130.4C1400.6,134.1 1401.8,146.5 1402.7,150.0C1403.6,153.5 1405.1,157.0 1406.0,156.6C1406.9,156.2 1408.4,150.1 1409.3,146.7C1410.2,143.3 1411.4,132.9 1412.6,131.2C1413.8,129.5 1416.8,134.9 1418.3,133.6C1419.8,132.3 1422.8,121.6 1424.0,121.4C1425.2,121.2 1426.4,129.2 1427.3,132.0C1428.2,134.8 1429.6,142.7 1430.6,142.7C1431.6,142.7 1433.7,135.4 1434.7,132.0C1435.7,128.6 1436.4,119.9 1437.9,117.3C1439.4,114.7 1443.5,112.5 1446.1,112.4C1448.7,112.3 1455.5,114.3 1457.6,116.5C1459.7,118.7 1460.3,126.2 1461.7,128.7C1463.1,131.2 1466.7,131.9 1468.2,135.3C1469.7,138.7 1471.5,152.2 1473.1,154.1C1474.7,156.0 1479.0,147.6 1480.5,149.2C1482.0,150.8 1483.7,160.8 1484.6,166.4C1485.5,172.0 1486.5,183.3 1487.0,190.9C1487.5,198.5 1488.3,214.2 1488.7,223.7C1489.1,233.2 1489.5,252.8 1489.8,262.0C1490.1,271.2 1490.3,285.8 1490.6,292.7C1490.9,299.6 1491.7,309.5 1492.1,314.0C1492.5,318.5 1492.9,325.3 1493.7,326.3C1494.5,327.3 1496.8,321.3 1497.8,321.4C1498.8,321.5 1500.2,323.9 1501.1,327.1C1502.0,330.3 1503.4,339.2 1504.4,345.1C1505.4,351.0 1507.4,364.8 1508.5,371.3C1509.6,377.8 1511.6,390.2 1512.6,394.2C1513.6,398.2 1515.4,402.9 1516.2,401.6C1517.0,400.3 1518.2,391.1 1518.8,384.4C1519.4,377.7 1520.2,360.1 1520.7,351.7C1521.2,343.3 1521.7,324.9 1522.4,321.4C1523.1,317.9 1524.9,320.2 1525.6,325.5C1526.3,330.8 1526.8,351.0 1527.3,361.5C1527.8,372.0 1529.0,394.4 1529.7,404.0C1530.4,413.6 1531.7,428.0 1532.2,433.5C1532.7,439.0 1533.3,444.6 1533.8,445.0C1534.3,445.4 1535.6,442.9 1536.3,436.8C1537.0,430.7 1538.1,409.6 1538.7,399.1C1539.3,388.6 1540.2,366.5 1540.7,358.2C1541.2,349.9 1541.9,337.3 1542.5,336.9C1543.1,336.5 1544.7,347.7 1545.3,354.9C1545.9,362.1 1546.5,380.6 1546.9,390.9C1547.3,401.2 1547.9,424.2 1548.6,431.8C1549.3,439.4 1551.0,449.3 1551.8,448.2C1552.6,447.1 1553.5,432.4 1554.3,423.7C1555.1,415.0 1556.6,393.2 1557.6,382.7C1558.6,372.2 1560.6,353.4 1561.7,345.1C1562.8,336.8 1564.6,324.9 1565.7,320.6C1566.8,316.3 1568.7,313.4 1569.8,313.2C1570.9,313.0 1572.9,315.5 1573.9,318.9C1574.9,322.3 1576.3,332.3 1577.2,338.6C1578.1,344.9 1579.7,360.9 1580.5,366.4C1581.3,371.9 1582.2,377.0 1582.9,379.5C1583.6,382.0 1584.7,385.0 1585.4,385.2C1586.1,385.4 1587.1,382.5 1587.8,381.1C1588.5,379.7 1589.7,373.7 1590.3,374.6C1590.9,375.5 1591.9,382.2 1592.4,387.7C1592.9,393.2 1593.9,409.1 1594.4,415.5C1594.9,421.9 1595.7,435.2 1596.4,435.9C1597.1,436.6 1598.6,426.4 1599.3,420.4C1600.0,414.4 1601.1,398.3 1601.8,390.9C1602.5,383.5 1603.3,370.0 1604.2,364.7C1605.1,359.4 1607.0,353.5 1608.3,350.8C1609.6,348.1 1612.4,344.9 1614.0,344.6C1615.6,344.3 1619.1,346.6 1620.6,348.4C1622.1,350.2 1624.4,354.3 1625.5,358.2C1626.6,362.1 1628.1,370.2 1628.8,377.8C1629.5,385.4 1630.2,405.0 1630.7,415.5C1631.2,426.0 1632.0,447.0 1632.4,456.4C1632.8,465.8 1633.4,480.4 1633.7,485.9C1634.0,491.4 1634.6,496.9 1635.0,497.3C1635.4,497.7 1636.4,496.7 1637.0,489.1C1637.6,481.5 1638.7,453.1 1639.4,440.0C1640.1,426.9 1641.1,404.0 1641.9,390.9C1642.7,377.8 1644.2,353.8 1645.1,341.8C1646.0,329.8 1647.7,311.3 1648.5,301.2C1649.3,291.1 1650.5,274.4 1651.4,266.3C1652.3,258.2 1653.8,246.3 1654.9,240.7C1656.0,235.1 1658.1,227.8 1659.6,224.5C1661.1,221.2 1664.7,218.6 1666.0,216.3C1667.3,214.0 1668.2,208.5 1669.4,207.0C1670.6,205.5 1673.2,205.5 1674.7,204.7C1676.2,203.9 1679.1,202.8 1680.5,201.2C1681.9,199.6 1683.7,193.4 1685.1,192.5C1686.5,191.6 1689.6,195.8 1691.0,194.8C1692.4,193.8 1694.4,186.4 1695.6,184.9C1696.8,183.4 1699.3,182.4 1700.3,183.2C1701.3,184.0 1702.5,186.6 1703.2,190.7C1703.9,194.8 1704.9,205.9 1705.5,214.0C1706.1,222.1 1707.0,246.1 1707.8,251.2C1708.6,256.3 1710.3,254.1 1711.3,252.4C1712.3,250.7 1714.3,241.8 1715.4,238.4C1716.5,235.0 1718.3,228.8 1719.5,226.8C1720.7,224.8 1723.5,222.4 1724.7,223.3C1725.9,224.2 1727.9,229.6 1728.8,233.8C1729.7,238.0 1730.9,248.8 1731.7,254.7C1732.5,260.6 1733.8,271.8 1734.6,278.0C1735.4,284.2 1736.8,293.2 1737.5,301.2C1738.2,309.2 1738.5,326.0 1739.6,338.0C1740.7,350.0 1744.0,377.7 1745.8,390.9C1747.6,404.1 1751.3,428.3 1753.1,436.8C1754.9,445.3 1758.1,453.7 1759.4,454.8C1760.7,455.9 1762.1,453.5 1763.0,445.0C1763.9,436.5 1765.4,403.3 1766.2,390.9C1767.0,378.5 1768.1,359.5 1768.7,352.0C1769.3,344.5 1770.4,339.1 1770.9,335.0C1771.4,330.9 1771.4,322.4 1772.4,321.0C1773.4,319.6 1776.8,325.6 1778.2,324.5C1779.6,323.4 1781.7,317.6 1782.9,312.9C1784.1,308.2 1786.4,295.8 1787.5,289.6C1788.6,283.4 1790.1,271.0 1791.0,266.3C1791.9,261.6 1792.8,256.2 1793.9,254.7C1795.0,253.2 1797.7,255.6 1799.2,254.7C1800.7,253.8 1804.3,248.0 1805.5,248.3C1806.7,248.6 1807.6,253.8 1808.5,257.0C1809.4,260.2 1811.2,269.3 1812.0,272.2C1812.8,275.1 1813.7,277.3 1814.5,278.5C1815.3,279.7 1817.5,281.1 1818.0,281.5"/>
</g>
<line x1="1097.3" y1="691.6" x2="1157.3" y2="633.4" stroke="#000" stroke-width="6.0"/><polygon points="1176.2,615.1 1160.0,640.4 1150.4,630.5" fill="#000" stroke="#000" stroke-width="5.7" stroke-linejoin="round"/>
<line x1="361.4" y1="1153.1" x2="279.5" y2="1058.7" stroke="#000" stroke-width="6.0"/><polygon points="262.3,1038.8 286.7,1056.4 276.3,1065.5" fill="#000" stroke="#000" stroke-width="5.7" stroke-linejoin="round"/>
<line x1="1156.5" y1="1126.7" x2="1216.6" y2="1070.2" stroke="#000" stroke-width="6.0"/><polygon points="1235.8,1052.2 1219.2,1077.3 1209.7,1067.2" fill="#000" stroke="#000" stroke-width="5.7" stroke-linejoin="round"/>
<line x1="1409.2" y1="1126.9" x2="1337.5" y2="1068.8" stroke="#000" stroke-width="6.0"/><polygon points="1317.1,1052.2 1344.2,1065.3 1335.5,1076.0" fill="#000" stroke="#000" stroke-width="5.7" stroke-linejoin="round"/>
<line x1="1539.2" y1="1083.8" x2="1483.3" y2="1053.9" stroke="#000" stroke-width="6.0"/><polygon points="1460.1,1041.5 1489.2,1049.2 1482.7,1061.4" fill="#000" stroke="#000" stroke-width="5.7" stroke-linejoin="round"/>
<text transform="matrix(1.0512 0 0 1 108.30 222.30)" font-size="72.00">PC</text>
<text transform="matrix(1.0168 0 0 1 56.67 579.40)" font-size="72.00">PC/ASN</text>
<text transform="matrix(0.9500 0 0 1 348.83 579.40)" font-size="72.00">(0.10</text>
<text transform="matrix(1.0061 0 0 1 510.40 579.40)" font-size="72.00">wt%)</text>
<text transform="matrix(1.0738 0 0 1 47.58 1319.60)" font-size="72.00">Char</text>
<text transform="matrix(1.0343 0 0 1 214.34 1319.60)" font-size="72.00">of</text>
<text transform="matrix(1.0168 0 0 1 292.37 1319.60)" font-size="72.00">PC/ASN</text>
<text transform="matrix(0.9500 0 0 1 567.23 1319.60)" font-size="72.00">(0.10</text>
<text transform="matrix(1.0068 0 0 1 728.80 1319.60)" font-size="72.00">wt%)</text>
<text class="d" transform="matrix(0.9844 0 0 1 964.69 752.20)" font-size="70.50">1770</text>
<text class="d" transform="matrix(0.9820 0 0 1 363.85 1207.10)" font-size="70.50">3435</text>
<text class="d" transform="matrix(0.9905 0 0 1 1068.46 1204.60)" font-size="70.50">1630</text>
<text class="d" transform="matrix(0.9888 0 0 1 1350.07 1204.60)" font-size="70.50">1594</text>
<text class="d" transform="matrix(0.9935 0 0 1 1548.44 1127.20)" font-size="70.50">1400</text>
<text class="d" transform="matrix(0.9796 0 0 1 121.26 1460.50)" font-size="70.50">3500</text>
<text class="d" transform="matrix(0.9796 0 0 1 411.16 1460.50)" font-size="70.50">3000</text>
<text class="d" transform="matrix(0.9796 0 0 1 701.66 1460.50)" font-size="70.50">2500</text>
<text class="d" transform="matrix(0.9796 0 0 1 991.96 1460.50)" font-size="70.50">2000</text>
<text class="d" transform="matrix(0.9897 0 0 1 1282.06 1460.50)" font-size="70.50">1500</text>
<text class="d" transform="matrix(0.9889 0 0 1 1572.17 1460.50)" font-size="70.50">1000</text>
<text transform="matrix(1.0672 0 0 1 604.00 1551.30)" font-size="72.50">Wavenumbers</text>
<text transform="matrix(0.9932 0 0 1 1061.79 1551.30)" font-size="72.50">(cm</text>
<text class="d" transform="matrix(0.9574 0 0 1 1173.82 1506.40)" font-size="42.00">-1</text>
<text transform="matrix(0.9429 0 0 1 1207.60 1551.30)" font-size="72.50">)</text>
</svg>
</body></html>
